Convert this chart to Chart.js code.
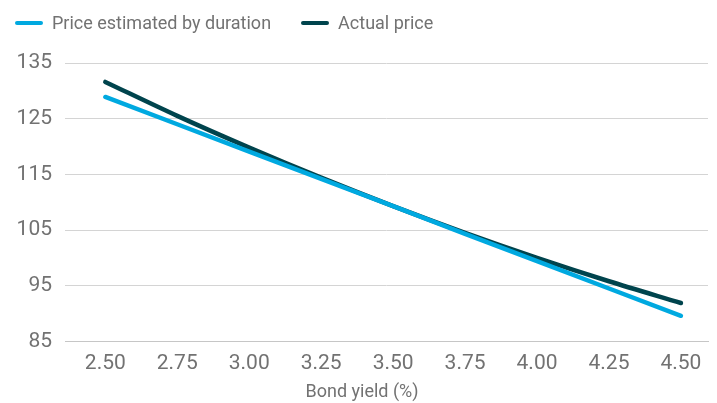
<!DOCTYPE html>
<html>
<head>
<meta charset="utf-8">
<title>Bond price vs. yield</title>
<script src="https://cdn.jsdelivr.net/npm/chart.js@4/dist/chart.umd.min.js"></script>
<style>
  html, body { margin: 0; padding: 0; background: #ffffff; }
  #wrap { position: relative; width: 717px; height: 403px; }
  #legend {
    position: absolute; left: 15px; top: 12px;
    display: flex; align-items: center;
    font: 18px Roboto, "Liberation Sans", sans-serif; color: #727272;
    line-height: 22px;
  }
  #legend .item { display: flex; align-items: center; margin-right: 30px; }
  #legend .swatch { width: 28px; height: 4px; border-radius: 2px; margin-right: 9px; }
</style>
</head>
<body>
<div id="wrap">
  <canvas id="chart" width="717" height="403"></canvas>
  <div id="legend"></div>
</div>
<script>
// Bond yield (%) on the x axis
const yields = [2.50, 2.75, 3.00, 3.25, 3.50, 3.75, 4.00, 4.25, 4.50];

// Linear price approximation from modified duration
const durationEstimate = [128.9, 124.0, 119.1, 114.2, 109.3, 104.3, 99.4, 94.5, 89.6];

// Actual (convex) bond price
const actualPrice = [131.6, 125.5, 119.8, 114.4, 109.3, 104.5, 100.0, 95.8, 91.9];

const seriesNames = ['Price estimated by duration', 'Actual price'];
const seriesColors = ['#00a9e0', '#00444d'];
const priceTicks = [85, 95, 105, 115, 125, 135];
const xTitle = 'Bond yield (%)';

const textColor = '#727272';
Chart.defaults.font.family = 'Roboto, "Liberation Sans", sans-serif';
Chart.defaults.color = textColor;

const toPoints = (values) => yields.map((x, i) => ({ x: x, y: values[i] }));

// legend row
const legendEl = document.getElementById('legend');
seriesNames.forEach((name, i) => {
  const item = document.createElement('div');
  item.className = 'item';
  const sw = document.createElement('span');
  sw.className = 'swatch';
  sw.style.background = seriesColors[i];
  const label = document.createElement('span');
  label.textContent = name;
  item.appendChild(sw);
  item.appendChild(label);
  legendEl.appendChild(item);
});

new Chart(document.getElementById('chart'), {
  type: 'line',
  data: {
    datasets: [
      {
        label: seriesNames[0],
        data: toPoints(durationEstimate),
        borderColor: seriesColors[0],
        backgroundColor: seriesColors[0],
        borderWidth: 4.5,
        borderCapStyle: 'round',
        pointRadius: 0,
        tension: 0
      },
      {
        label: seriesNames[1],
        data: toPoints(actualPrice),
        borderColor: seriesColors[1],
        backgroundColor: seriesColors[1],
        borderWidth: 4.5,
        borderCapStyle: 'round',
        pointRadius: 0,
        cubicInterpolationMode: 'monotone'
      }
    ]
  },
  options: {
    responsive: false,
    animation: false,
    devicePixelRatio: 1,
    layout: { padding: { top: 63, left: 16, right: 9, bottom: 0 } },
    plugins: {
      legend: { display: false },
      tooltip: { enabled: false },
      title: {
        display: true,
        position: 'bottom',
        text: xTitle,
        color: textColor,
        font: { size: 18, weight: 'normal' },
        padding: { top: 2, bottom: 0 }
      }
    },
    scales: {
      x: {
        type: 'linear',
        min: 2.36,
        max: 4.594,
        grid: { display: false, drawTicks: false },
        border: { display: true, color: '#c6c6c6', width: 1 },
        afterBuildTicks: (scale) => {
          scale.ticks = scale.ticks.filter(t => t.value >= yields[0] - 1e-9 && t.value <= yields[yields.length - 1] + 1e-9);
        },
        afterFit: (scale) => { scale.height = 38; },
        ticks: {
          stepSize: 0.25,
          includeBounds: false,
          autoSkip: false,
          maxRotation: 0,
          padding: 10,
          font: { size: 21 },
          color: textColor,
          callback: (v) => Number(v).toFixed(2)
        }
      },
      y: {
        min: priceTicks[0],
        max: priceTicks[priceTicks.length - 1],
        grid: { color: '#d4d4d4', lineWidth: 1, drawTicks: false },
        border: { display: false },
        afterFit: (scale) => { scale.width = 49; },
        ticks: {
          stepSize: 10,
          padding: 13,
          font: { size: 21 },
          color: textColor
        }
      }
    }
  }
});
</script>
</body>
</html>
